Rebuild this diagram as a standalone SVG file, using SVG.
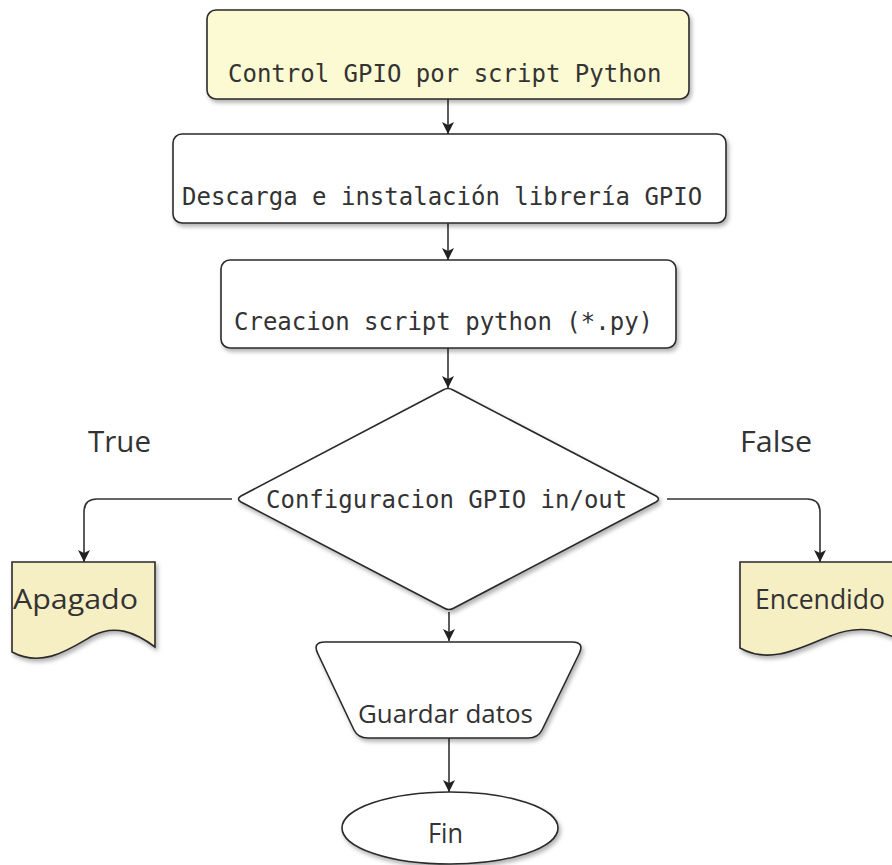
<svg xmlns="http://www.w3.org/2000/svg" width="892" height="865" viewBox="0 0 892 865">
<style>
.shape{stroke:#2a2a2a;stroke-width:1.6;filter:url(#sh)}
.proc{fill:#ffffff}
.yel{fill:#fcfad2}
.doc{fill:#f7efc4}
.mono{font-family:"DejaVu Sans Mono","Liberation Mono",monospace;font-size:24px;fill:#333}
.sans{font-family:"Open Sans","Noto Sans","Liberation Sans",sans-serif;fill:#333}
.conn{fill:none;stroke:#333;stroke-width:1.6;marker-end:url(#arr)}
</style>
<defs>
<filter id="sh" x="-10%" y="-10%" width="130%" height="140%">
<feDropShadow dx="2" dy="3" stdDeviation="2" flood-color="#000" flood-opacity="0.3"/>
</filter>
<marker id="arr" viewBox="0 0 12 12" refX="12" refY="6" markerWidth="12" markerHeight="12" markerUnits="userSpaceOnUse" orient="auto">
<path d="M0,0 L12,6 L0,12 L3,6 Z" fill="#222"/>
</marker>
</defs>
<rect width="892" height="865" fill="#ffffff"/>

<g id="connectors">
<path class="conn" d="M448,99 V134"/>
<path class="conn" d="M448,223 V260"/>
<path class="conn" d="M448,348 V388"/>
<path class="conn" d="M232,499 H97 Q84,499 84,512 V562"/>
<path class="conn" d="M667,499 H807 Q820,499 820,512 V562"/>
<path class="conn" d="M449,612 V641"/>
<path class="conn" d="M449,738 V792"/>
</g>

<g id="n-control">
<rect class="shape yel" x="207" y="10" width="482" height="89" rx="9"/>
<text class="mono" x="228" y="82">Control GPIO por script Python</text>
</g>

<g id="n-descarga">
<rect class="shape proc" x="173" y="134" width="553" height="89" rx="9"/>
<text class="mono" x="182" y="205">Descarga e instalación librería GPIO</text>
</g>

<g id="n-creacion">
<rect class="shape proc" x="221" y="260" width="455" height="88" rx="9"/>
<text class="mono" x="234" y="330">Creacion script python (*.py)</text>
</g>

<g id="n-config">
<path class="shape proc" d="M443,390 Q448,387 453,390 L656,496 Q661,499 656,502 L454,608 Q449,611 444,608 L241,502 Q236,499 241,496 Z"/>
<text class="mono" x="266" y="508">Configuracion GPIO in/out</text>
</g>

<g id="l-true">
<text class="sans" x="88" y="452" font-size="29" textLength="63" lengthAdjust="spacingAndGlyphs">True</text>
</g>
<g id="l-false">
<text class="sans" x="740" y="452" font-size="29" textLength="72" lengthAdjust="spacingAndGlyphs">False</text>
</g>

<g id="n-apagado">
<path class="shape doc" d="M12,562 H155 V647 C135,632 115,624 92,636 C68,650 42,668 12,652 Z"/>
<text class="sans" x="13" y="609" font-size="27" textLength="125" lengthAdjust="spacingAndGlyphs">Apagado</text>
</g>

<g id="n-encendido">
<path class="shape doc" d="M740,562 H905 V642 C880,630 860,624 830,636 C800,648 770,665 740,648 Z"/>
<text class="sans" x="755" y="609" font-size="27" textLength="130" lengthAdjust="spacingAndGlyphs">Encendido</text>
</g>

<g id="n-guardar">
<path class="shape proc" d="M325,642 H572 Q585,642 579,654 L542,730 Q538,738 528,738 H368 Q358,738 354,730 L318,654 Q312,642 325,642 Z"/>
<text class="sans" x="358" y="723" font-size="25" textLength="175" lengthAdjust="spacingAndGlyphs">Guardar datos</text>
</g>

<g id="n-fin">
<ellipse class="shape proc" cx="450" cy="828" rx="108" ry="36"/>
<text class="sans" x="428" y="843" font-size="28" textLength="35" lengthAdjust="spacingAndGlyphs">Fin</text>
</g>
</svg>
